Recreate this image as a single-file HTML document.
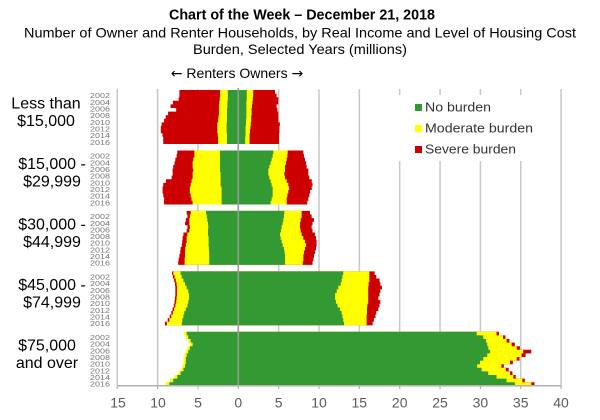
<!DOCTYPE html>
<html><head><meta charset="utf-8"><style>
html,body{margin:0;padding:0;background:#fff;}
svg{display:block;}
text{font-family:"Liberation Sans",Arial,sans-serif;}
</style></head><body>
<svg width="600" height="420" viewBox="0 0 600 420" xmlns="http://www.w3.org/2000/svg">
<rect x="0" y="0" width="600" height="420" fill="#fff"/>
<!-- titles -->
<text x="302" y="19.5" font-size="14.5" font-weight="bold" text-anchor="middle" fill="#000" textLength="266" lengthAdjust="spacingAndGlyphs">Chart of the Week – December 21, 2018</text>
<text x="300" y="37.5" font-size="14" text-anchor="middle" fill="#000" textLength="552" lengthAdjust="spacingAndGlyphs">Number of Owner and Renter Households, by Real Income and Level of Housing Cost</text>
<text x="300" y="54" font-size="14" text-anchor="middle" fill="#000" textLength="214" lengthAdjust="spacingAndGlyphs">Burden, Selected Years (millions)</text>
<text x="237" y="78" font-size="14" text-anchor="middle" fill="#000"><tspan font-family="DejaVu Sans, sans-serif">←</tspan> Renters Owners <tspan font-family="DejaVu Sans, sans-serif">→</tspan></text>

<!-- gridlines -->
<g stroke="#c8c8c8" stroke-width="1.5">
<line x1="117.25" y1="89" x2="117.25" y2="386"/>
<line x1="157.6" y1="89" x2="157.6" y2="386"/>
<line x1="197.95" y1="89" x2="197.95" y2="386"/>
<line x1="278.65" y1="89" x2="278.65" y2="386"/>
<line x1="319" y1="89" x2="319" y2="386"/>
<line x1="359.35" y1="89" x2="359.35" y2="386"/>
<line x1="399.7" y1="89" x2="399.7" y2="386"/>
<line x1="440.05" y1="89" x2="440.05" y2="386"/>
<line x1="480.4" y1="89" x2="480.4" y2="386"/>
<line x1="520.75" y1="89" x2="520.75" y2="386"/>
<line x1="561.1" y1="89" x2="561.1" y2="386"/>
</g>

<!-- Group 1 -->
<g transform="translate(238.3,90) scale(8.07,3.6)">
<polygon fill="#cc0000" points="0,0 -7.3,0 -7.3,2 -7.4,2 -7.4,3 -8.1,3 -8.1,4 -8.4,4 -8.4,5 -7.7,5 -7.7,6 -8.7,6 -8.7,7 -9,7 -9,8 -9.2,8 -9.2,9 -9.5,9 -9.5,10 -9.6,10 -9.6,12 -9.4,12 -9.4,13 -9.3,13 -9.3,15 0,15"/>
<polygon fill="#ffff00" points="0,0 -2.25,0 -2.25,2 -2.3,2 -2.3,3 -2.35,3 -2.35,4 -2.4,4 -2.4,7 -2.45,7 -2.45,8 -2.5,8 -2.5,9 -2.6,9 -2.6,12 -2.55,12 -2.55,13 -2.5,13 -2.5,15 0,15"/>
<polygon fill="#339933" points="0,0 -1.3,0 -1.3,3 -1.35,3 -1.35,5 -1.4,5 -1.4,9 -1.45,9 -1.45,12 -1.4,12 -1.4,15 0,15"/>
<polygon fill="#cc0000" points="0,0 4.55,0 4.55,1 4.75,1 4.75,2 4.95,2 4.95,4 4.75,4 4.75,5 4.85,5 4.85,6 4.95,6 4.95,9 5.15,9 5.15,10 5.1,10 5.1,12 5.05,12 5.05,15 0,15"/>
<polygon fill="#ffff00" points="0,0 1.85,0 1.85,2 1.8,2 1.8,3 1.75,3 1.75,4 1.7,4 1.7,5 1.65,5 1.65,7 1.6,7 1.6,9 1.55,9 1.55,10 1.5,10 1.5,11 1.45,11 1.45,12 1.4,12 1.4,15 0,15"/>
<polygon fill="#339933" points="0,0 1.05,0 1.05,3 1,3 1,8 0.95,8 0.95,10 0.9,10 0.9,13 0.85,13 0.85,15 0,15"/>
</g>

<!-- Group 2 -->
<g transform="translate(238.3,150.45) scale(8.07,3.6)">
<polygon fill="#cc0000" points="0,0 -7.56,0 -7.56,1 -7.64,1 -7.64,2 -7.8,2 -7.8,3 -7.9,3 -7.9,4 -8.06,4 -8.06,5 -8.14,5 -8.14,7 -8.26,7 -8.26,8 -8.97,8 -8.97,9 -9.3,9 -9.3,10 -9.38,10 -9.38,12 -9.3,12 -9.3,13 -9.2,13 -9.2,15 0,15"/>
<polygon fill="#ffff00" points="0,0 -5.45,0 -5.45,2 -5.58,2 -5.58,3 -5.66,3 -5.66,5 -5.58,5 -5.58,6 -5.66,6 -5.66,8 -5.79,8 -5.79,9 -5.9,9 -5.9,10 -6,10 -6,12 -5.9,12 -5.9,13 -5.8,13 -5.8,14 -5.66,14 -5.66,15 0,15"/>
<polygon fill="#339933" points="0,0 -2.27,0 -2.27,6 -2.19,6 -2.19,10 -2.07,10 -2.07,15 0,15"/>
<polygon fill="#cc0000" points="0,0 8.06,0 8.06,1 8.14,1 8.14,2 8.26,2 8.26,3 8.4,3 8.4,4 8.47,4 8.47,5 8.68,5 8.68,7 8.8,7 8.8,8 9.1,8 9.1,9 9.2,9 9.2,10 9.1,10 9.1,11 8.9,11 8.9,12 8.8,12 8.8,13 8.68,13 8.68,14 8.55,14 8.55,15 0,15"/>
<polygon fill="#ffff00" points="0,0 6.12,0 6.12,1 6.08,1 6.08,2 6,2 6,3 5.9,3 5.9,4 5.79,4 5.79,6 5.7,6 5.7,7 5.79,7 5.79,8 6,8 6,9 6.2,9 6.2,10 6.3,10 6.3,11 6.2,11 6.2,12 6.08,12 6.08,13 6,13 6,15 0,15"/>
<polygon fill="#339933" points="0,0 4.34,0 4.34,1 4.26,1 4.26,2 4.13,2 4.13,3 4,3 4,4 3.84,4 3.84,5 3.72,5 3.72,7 3.84,7 3.84,8 4,8 4,9 4.13,9 4.13,10 4.26,10 4.26,13 4.13,13 4.13,14 4,14 4,15 0,15"/>
</g>

<!-- Group 3 -->
<g transform="translate(238.3,210.9) scale(8.07,3.6)">
<polygon fill="#cc0000" points="0,0 -6.4,0 -6.4,1 -6.3,1 -6.3,2 -6.5,2 -6.5,3 -6.6,3 -6.6,4 -6.3,4 -6.3,5 -6.4,5 -6.4,6 -6.8,6 -6.8,7 -6.9,7 -6.9,8 -6.95,8 -6.95,9 -7,9 -7,10 -7.15,10 -7.15,11 -7.2,11 -7.2,12 -7.3,12 -7.3,13 -7.4,13 -7.4,14 -7.45,14 -7.45,15 0,15"/>
<polygon fill="#ffff00" points="0,0 -5.9,0 -5.9,1 -6,1 -6,2 -6.07,2 -6.07,4 -6,4 -6,5 -6.07,5 -6.07,6 -6.3,6 -6.3,7 -6.4,7 -6.4,9 -6.5,9 -6.5,10 -6.57,10 -6.57,11 -6.6,11 -6.6,13 -6.65,13 -6.65,15 0,15"/>
<polygon fill="#339933" points="0,0 -4,0 -4,1 -3.9,1 -3.9,2 -3.84,2 -3.84,3 -3.76,3 -3.76,4 -3.72,4 -3.72,5 -3.76,5 -3.76,7 -3.68,7 -3.68,10 -3.64,10 -3.64,11 -3.6,11 -3.6,15 0,15"/>
<polygon fill="#cc0000" points="0,0 8.88,0 8.88,1 9.09,1 9.09,2 9.38,2 9.38,3 9.2,3 9.2,4 9.09,4 9.09,5 9.2,5 9.2,6 9.5,6 9.5,7 9.63,7 9.63,8 9.7,8 9.7,10 9.63,10 9.63,11 9.5,11 9.5,12 9.38,12 9.38,13 9.3,13 9.3,14 9.2,14 9.2,15 0,15"/>
<polygon fill="#ffff00" points="0,0 7.85,0 7.85,2 7.73,2 7.73,3 7.64,3 7.64,5 7.73,5 7.73,6 7.85,6 7.85,7 8.06,7 8.06,8 8.26,8 8.26,9 8.4,9 8.4,10 8.26,10 8.26,11 8.14,11 8.14,12 8.06,12 8.06,14 7.98,14 7.98,15 0,15"/>
<polygon fill="#339933" points="0,0 5.7,0 5.7,1 5.66,1 5.66,2 5.58,2 5.58,3 5.5,3 5.5,4 5.37,4 5.37,5 5.29,5 5.29,6 5.17,6 5.17,7 5.25,7 5.25,8 5.37,8 5.37,9 5.5,9 5.5,10 5.66,10 5.66,11 5.74,11 5.74,12 5.79,12 5.79,15 0,15"/>
</g>

<!-- Group 4 -->
<g transform="translate(238.3,271.35) scale(8.07,3.6)">
<polygon fill="#cc0000" points="0,0 -8.2,0 -8.2,1 -8.1,1 -8.1,2 -7.95,2 -7.95,3 -7.85,3 -7.85,4 -7.8,4 -7.8,7 -7.85,7 -7.85,8 -7.9,8 -7.9,9 -8,9 -8,10 -8.15,10 -8.15,11 -8.3,11 -8.3,12 -8.5,12 -8.5,13 -8.75,13 -8.75,14 -9.1,14 -9.1,15 0,15"/>
<polygon fill="#ffff00" points="0,0 -8.05,0 -8.05,1 -7.9,1 -7.9,2 -7.75,2 -7.75,3 -7.65,3 -7.65,4 -7.6,4 -7.6,7 -7.65,7 -7.65,8 -7.7,8 -7.7,9 -7.8,9 -7.8,10 -7.95,10 -7.95,11 -8.1,11 -8.1,12 -8.3,12 -8.3,13 -8.55,13 -8.55,14 -8.85,14 -8.85,15 0,15"/>
<polygon fill="#339933" points="0,0 -7.15,0 -7.15,1 -7.02,1 -7.02,2 -6.8,2 -6.8,3 -6.6,3 -6.6,4 -6.4,4 -6.4,5 -6.2,5 -6.2,6 -6.1,6 -6.1,8 -6.2,8 -6.2,9 -6.3,9 -6.3,10 -6.5,10 -6.5,11 -6.7,11 -6.7,12 -6.8,12 -6.8,13 -6.94,13 -6.94,14 -7,14 -7,15 0,15"/>
<polygon fill="#cc0000" points="0,0 16.9,0 16.9,1 17.1,1 17.1,2 17.5,2 17.5,3 17.6,3 17.6,4 17.8,4 17.8,5 17.6,5 17.6,6 17.5,6 17.5,7 17.35,7 17.35,8 17.6,8 17.6,9 17.5,9 17.5,10 17.35,10 17.35,11 17.1,11 17.1,12 17,12 17,13 16.8,13 16.8,14 16.65,14 16.65,15 0,15"/>
<polygon fill="#ffff00" points="0,0 16.24,0 16.24,3 16.15,3 16.15,4 16.1,4 16.1,9 16,9 16,10 15.95,10 15.95,12 15.9,12 15.9,15 0,15"/>
<polygon fill="#339933" points="0,0 13,0 13,1 12.9,1 12.9,2 12.8,2 12.8,3 12.7,3 12.7,4 12.4,4 12.4,5 12.2,5 12.2,6 12,6 12,8 12.1,8 12.1,9 12.3,9 12.3,10 12.6,10 12.6,11 12.8,11 12.8,12 12.9,12 12.9,13 13,13 13,14 13.1,14 13.1,15 0,15"/>
</g>

<!-- Group 5 -->
<g transform="translate(238.3,331.8) scale(8.07,3.6)">
<polygon fill="#ffff00" points="0,0 -6.7,0 -6.7,1 -6.5,1 -6.5,2 -6.2,2 -6.2,3 -5.96,3 -5.96,4 -6.3,4 -6.3,5 -6.5,5 -6.5,6 -6.7,6 -6.7,7 -6.8,7 -6.8,9 -6.9,9 -6.9,10 -7.1,10 -7.1,11 -7.45,11 -7.45,12 -7.9,12 -7.9,13 -8.45,13 -8.45,14 -9.05,14 -9.05,15 0,15"/>
<polygon fill="#339933" points="0,0 -6.4,0 -6.4,1 -6.2,1 -6.2,2 -5.9,2 -5.9,3 -5.66,3 -5.66,4 -6,4 -6,5 -6.2,5 -6.2,6 -6.4,6 -6.4,7 -6.5,7 -6.5,9 -6.6,9 -6.6,10 -6.8,10 -6.8,11 -7.15,11 -7.15,12 -7.56,12 -7.56,13 -8.06,13 -8.06,14 -8.55,14 -8.55,15 0,15"/>
<polygon fill="#cc0000" points="0,0 32.3,0 32.3,1 33.1,1 33.1,2 33.6,2 33.6,3 34.27,3 34.27,4 34.9,4 34.9,5 36.3,5 36.3,6 35.6,6 35.6,7 34.85,7 34.85,8 34.02,8 34.02,9 32.9,9 32.9,10 33.5,10 33.5,11 33.97,11 33.97,12 34.38,12 34.38,13 35.5,13 35.5,14 36.7,14 36.7,15 0,15"/>
<polygon fill="#ffff00" points="0,0 32,0 32,1 32.8,1 32.8,2 33.25,2 33.25,3 33.87,3 33.87,4 34.5,4 34.5,5 35.3,5 35.3,6 35.1,6 35.1,7 34.5,7 34.5,8 33.67,8 33.67,9 32.6,9 32.6,10 33.15,10 33.15,11 33.67,11 33.67,12 34.08,12 34.08,13 35.2,13 35.2,14 36.3,14 36.3,15 0,15"/>
<polygon fill="#339933" points="0,0 29.54,0 29.54,1 30.36,1 30.36,2 30.7,2 30.7,3 30.85,3 30.85,4 30.97,4 30.97,5 31.2,5 31.2,6 30.85,6 30.85,7 30.36,7 30.36,8 29.95,8 29.95,9 29.6,9 29.6,10 30.15,10 30.15,11 30.97,11 30.97,12 32,12 32,13 33.25,13 33.25,14 34.28,14 34.28,15 0,15"/>
</g>

<!-- center line -->
<line x1="238.3" y1="88" x2="238.3" y2="386" stroke="#999" stroke-width="1.6"/>

<!-- bottom axis -->
<line x1="117.25" y1="385.7" x2="561.1" y2="385.7" stroke="#b0b0b0" stroke-width="1.5"/>
<g stroke="#b0b0b0" stroke-width="1.2">
<line x1="117.25" y1="385.7" x2="117.25" y2="389"/>
<line x1="157.6" y1="385.7" x2="157.6" y2="389"/>
<line x1="197.95" y1="385.7" x2="197.95" y2="389"/>
<line x1="238.3" y1="385.7" x2="238.3" y2="389"/>
<line x1="278.65" y1="385.7" x2="278.65" y2="389"/>
<line x1="319" y1="385.7" x2="319" y2="389"/>
<line x1="359.35" y1="385.7" x2="359.35" y2="389"/>
<line x1="399.7" y1="385.7" x2="399.7" y2="389"/>
<line x1="440.05" y1="385.7" x2="440.05" y2="389"/>
<line x1="480.4" y1="385.7" x2="480.4" y2="389"/>
<line x1="520.75" y1="385.7" x2="520.75" y2="389"/>
<line x1="561.1" y1="385.7" x2="561.1" y2="389"/>
</g>
<g font-size="14" fill="#5a5a5a" text-anchor="middle">
<text x="118" y="407.5">15</text>
<text x="158" y="407.5">10</text>
<text x="198" y="407.5">5</text>
<text x="238.3" y="407.5">0</text>
<text x="278.6" y="407.5">5</text>
<text x="319" y="407.5">10</text>
<text x="359.3" y="407.5">15</text>
<text x="399.7" y="407.5">20</text>
<text x="440" y="407.5">25</text>
<text x="480.4" y="407.5">30</text>
<text x="520.7" y="407.5">35</text>
<text x="561" y="407.5">40</text>
</g>

<!-- legend -->
<rect x="388" y="95" width="160" height="66" fill="#fff"/>
<rect x="415" y="104" width="7" height="7" fill="#339933"/>
<rect x="415" y="125" width="7" height="7" fill="#ffff00"/>
<rect x="415" y="146" width="7" height="7" fill="#cc0000"/>
<g font-size="12.5" fill="#333">
<text x="425" y="111.7" textLength="66" lengthAdjust="spacingAndGlyphs">No burden</text>
<text x="425" y="132.7" textLength="108" lengthAdjust="spacingAndGlyphs">Moderate burden</text>
<text x="425" y="153.7" textLength="91" lengthAdjust="spacingAndGlyphs">Severe burden</text>
</g>

<!-- group labels -->
<g font-size="16" fill="#000" text-anchor="middle">
<text x="46" y="108.7">Less than</text>
<text x="46" y="126.2">$15,000</text>
<text x="52" y="169.15">$15,000 -</text>
<text x="52" y="186.65">$29,999</text>
<text x="52" y="229.6">$30,000 -</text>
<text x="52" y="247.1">$44,999</text>
<text x="52" y="290.05">$45,000 -</text>
<text x="52" y="307.55">$74,999</text>
<text x="47" y="350.5">$75,000</text>
<text x="47" y="368">and over</text>
</g>

<!-- year labels -->
<g font-size="7.5" fill="#777" text-anchor="end">
<g transform="translate(0,90)">
<text x="110" y="8.2" textLength="20" lengthAdjust="spacingAndGlyphs">2002</text>
<text x="110" y="14.86" textLength="20" lengthAdjust="spacingAndGlyphs">2004</text>
<text x="110" y="21.52" textLength="20" lengthAdjust="spacingAndGlyphs">2006</text>
<text x="110" y="28.18" textLength="20" lengthAdjust="spacingAndGlyphs">2008</text>
<text x="110" y="34.84" textLength="20" lengthAdjust="spacingAndGlyphs">2010</text>
<text x="110" y="41.5" textLength="20" lengthAdjust="spacingAndGlyphs">2012</text>
<text x="110" y="48.16" textLength="20" lengthAdjust="spacingAndGlyphs">2014</text>
<text x="110" y="54.82" textLength="20" lengthAdjust="spacingAndGlyphs">2016</text>
</g>
<g transform="translate(0,150.45)">
<text x="110" y="8.2" textLength="20" lengthAdjust="spacingAndGlyphs">2002</text>
<text x="110" y="14.86" textLength="20" lengthAdjust="spacingAndGlyphs">2004</text>
<text x="110" y="21.52" textLength="20" lengthAdjust="spacingAndGlyphs">2006</text>
<text x="110" y="28.18" textLength="20" lengthAdjust="spacingAndGlyphs">2008</text>
<text x="110" y="34.84" textLength="20" lengthAdjust="spacingAndGlyphs">2010</text>
<text x="110" y="41.5" textLength="20" lengthAdjust="spacingAndGlyphs">2012</text>
<text x="110" y="48.16" textLength="20" lengthAdjust="spacingAndGlyphs">2014</text>
<text x="110" y="54.82" textLength="20" lengthAdjust="spacingAndGlyphs">2016</text>
</g>
<g transform="translate(0,210.9)">
<text x="110" y="8.2" textLength="20" lengthAdjust="spacingAndGlyphs">2002</text>
<text x="110" y="14.86" textLength="20" lengthAdjust="spacingAndGlyphs">2004</text>
<text x="110" y="21.52" textLength="20" lengthAdjust="spacingAndGlyphs">2006</text>
<text x="110" y="28.18" textLength="20" lengthAdjust="spacingAndGlyphs">2008</text>
<text x="110" y="34.84" textLength="20" lengthAdjust="spacingAndGlyphs">2010</text>
<text x="110" y="41.5" textLength="20" lengthAdjust="spacingAndGlyphs">2012</text>
<text x="110" y="48.16" textLength="20" lengthAdjust="spacingAndGlyphs">2014</text>
<text x="110" y="54.82" textLength="20" lengthAdjust="spacingAndGlyphs">2016</text>
</g>
<g transform="translate(0,271.35)">
<text x="110" y="8.2" textLength="20" lengthAdjust="spacingAndGlyphs">2002</text>
<text x="110" y="14.86" textLength="20" lengthAdjust="spacingAndGlyphs">2004</text>
<text x="110" y="21.52" textLength="20" lengthAdjust="spacingAndGlyphs">2006</text>
<text x="110" y="28.18" textLength="20" lengthAdjust="spacingAndGlyphs">2008</text>
<text x="110" y="34.84" textLength="20" lengthAdjust="spacingAndGlyphs">2010</text>
<text x="110" y="41.5" textLength="20" lengthAdjust="spacingAndGlyphs">2012</text>
<text x="110" y="48.16" textLength="20" lengthAdjust="spacingAndGlyphs">2014</text>
<text x="110" y="54.82" textLength="20" lengthAdjust="spacingAndGlyphs">2016</text>
</g>
<g transform="translate(0,331.8)">
<text x="110" y="8.2" textLength="20" lengthAdjust="spacingAndGlyphs">2002</text>
<text x="110" y="14.86" textLength="20" lengthAdjust="spacingAndGlyphs">2004</text>
<text x="110" y="21.52" textLength="20" lengthAdjust="spacingAndGlyphs">2006</text>
<text x="110" y="28.18" textLength="20" lengthAdjust="spacingAndGlyphs">2008</text>
<text x="110" y="34.84" textLength="20" lengthAdjust="spacingAndGlyphs">2010</text>
<text x="110" y="41.5" textLength="20" lengthAdjust="spacingAndGlyphs">2012</text>
<text x="110" y="48.16" textLength="20" lengthAdjust="spacingAndGlyphs">2014</text>
<text x="110" y="54.82" textLength="20" lengthAdjust="spacingAndGlyphs">2016</text>
</g>
</g>
</svg>
</body></html>
